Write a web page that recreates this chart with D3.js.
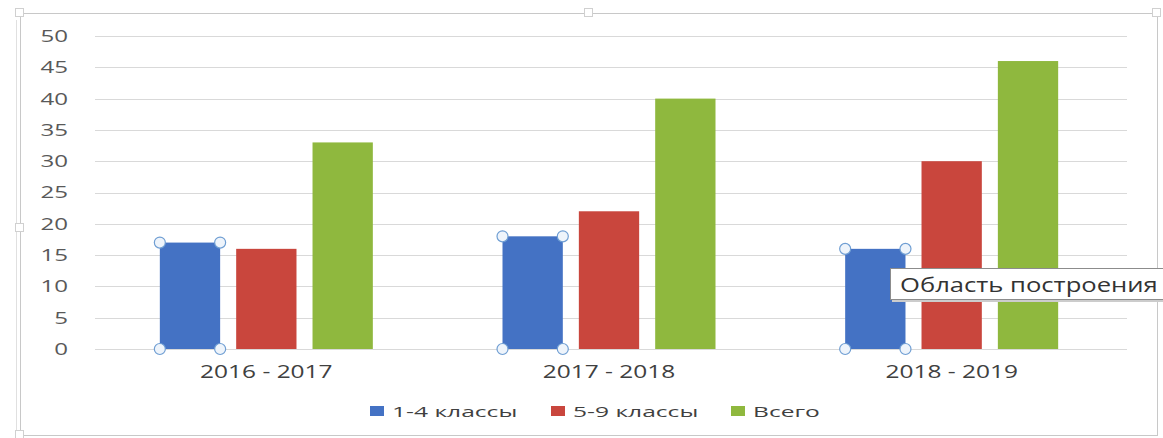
<!DOCTYPE html>
<html><head><meta charset="utf-8">
<script src="https://cdn.jsdelivr.net/npm/d3@7"></script>
<style>body{margin:0;background:#fff}svg{display:block;font-family:"Open Sans","DejaVu Sans",sans-serif}</style>
</head><body>
<svg id="c" width="1163" height="438"></svg>
<script>
const categories = ["2016 - 2017", "2017 - 2018", "2018 - 2019"];
const seriesNames = ["1-4 классы", "5-9 классы", "Всего"];
const grades1to4 = [17, 18, 16];
const grades5to9 = [16, 22, 30];
const total = [33, 40, 46];
const yTicks = [0, 5, 10, 15, 20, 25, 30, 35, 40, 45, 50];
const colors = ["#4472c4", "#c9463d", "#8fb83e"];
const series = [grades1to4, grades5to9, total];

const svg = d3.select("#c");
// outer chart frame
svg.append("rect").attr("x", 20.5).attr("y", 13.5).attr("width", 1137).attr("height", 422)
  .attr("fill", "#fff").attr("stroke", "#c8c8c8");
svg.append("line").attr("x1", 16.5).attr("x2", 16.5).attr("y1", 20).attr("y2", 430).attr("stroke", "#e0e0e0");
[[20,13],[589,13],[1157,13],[20,228],[20,435]].forEach(([hx,hy])=>{
  svg.append("rect").attr("x", hx-4.5).attr("y", hy-4.5).attr("width", 8).attr("height", 8)
    .attr("fill", "#fff").attr("stroke", "#d0d0d0");
});

const x0 = d3.scaleBand().domain(categories).range([95, 1123]).paddingInner(0).paddingOuter(0);
const x1 = d3.scaleBand().domain(seriesNames).range([-106.5, 106.5]).paddingInner(0.21).paddingOuter(0);
const y = d3.scaleLinear().domain([0, 50]).range([349, 36]);

// gridlines
svg.append("g").selectAll("line").data(yTicks).join("line")
  .attr("x1", 95).attr("x2", 1127)
  .attr("y1", d => Math.round(y(d)) + 0.5).attr("y2", d => Math.round(y(d)) + 0.5)
  .attr("stroke", "#d9d9d9").attr("stroke-width", 1);

// y axis labels
const yAxis = d3.axisLeft(y).tickValues(yTicks).tickSize(0).tickPadding(0);
const gy = svg.append("g").attr("transform", "translate(68,0)").call(yAxis);
gy.select(".domain").remove();
gy.selectAll("text").attr("font-size", 17).attr("fill", "#595959")
  .attr("font-family", '"Open Sans", sans-serif').attr("transform", "scale(1.42,1)");

// bars
const groups = svg.append("g").selectAll("g").data(categories).join("g")
  .attr("transform", d => `translate(${x0(d) + x0.bandwidth()/2},0)`);
groups.selectAll("rect").data((c, i) => series.map((s, k) => ({k, v: s[i], name: seriesNames[k]})))
  .join("rect")
  .attr("x", d => x1(d.name)).attr("width", x1.bandwidth())
  .attr("y", d => y(d.v)).attr("height", d => y(0) - y(d.v))
  .attr("fill", d => colors[d.k]);

// selection handles on first series
groups.each(function(c, i) {
  const g = d3.select(this);
  const xl = x1(seriesNames[0]), xr = xl + x1.bandwidth();
  const pts = [[xl, y(grades1to4[i])], [xr, y(grades1to4[i])], [xl, y(0)], [xr, y(0)]];
  g.selectAll("circle").data(pts).join("circle")
    .attr("cx", d => d[0]).attr("cy", d => d[1]).attr("r", 5.5)
    .attr("fill", "#eef4fb").attr("stroke", "#6f9ed3").attr("stroke-width", 1.2);
});

// x axis labels
const xAxis = d3.axisBottom(x0).tickSize(0).tickPadding(0);
const gx = svg.append("g").attr("transform", "translate(0,365)").call(xAxis);
gx.select(".domain").remove();
gx.selectAll("text").attr("font-size", 18).attr("fill", "#404040")
  .attr("font-family", '"Open Sans", sans-serif').attr("transform", "scale(1.36,1)");

// legend
const legendX = [370, 551, 731];
const lg = svg.append("g").selectAll("g").data(seriesNames).join("g")
  .attr("transform", (d, i) => `translate(${legendX[i]},406)`);
lg.append("rect").attr("width", 14).attr("height", 10).attr("fill", (d, i) => colors[i]);
lg.append("g").attr("transform", "translate(22,11)")
  .append("text").attr("font-size", 15).attr("fill", "#404040")
  .attr("transform", "scale(1.64,1)").text(d => d);

// tooltip
const tt = svg.append("g").attr("transform", "translate(890,268)");
tt.append("rect").attr("x", 2).attr("y", 2).attr("width", 290).attr("height", 32).attr("fill", "#ccc");
tt.append("rect").attr("x", 0.5).attr("y", 0.5).attr("width", 290).attr("height", 31)
  .attr("fill", "#fff").attr("stroke", "#8c8c8c");
tt.append("g").attr("transform", "translate(10,24)")
  .append("text").attr("font-size", 20).attr("fill", "#333")
  .attr("transform", "scale(1.28,1)").text("Область построения");
</script>
</body></html>
